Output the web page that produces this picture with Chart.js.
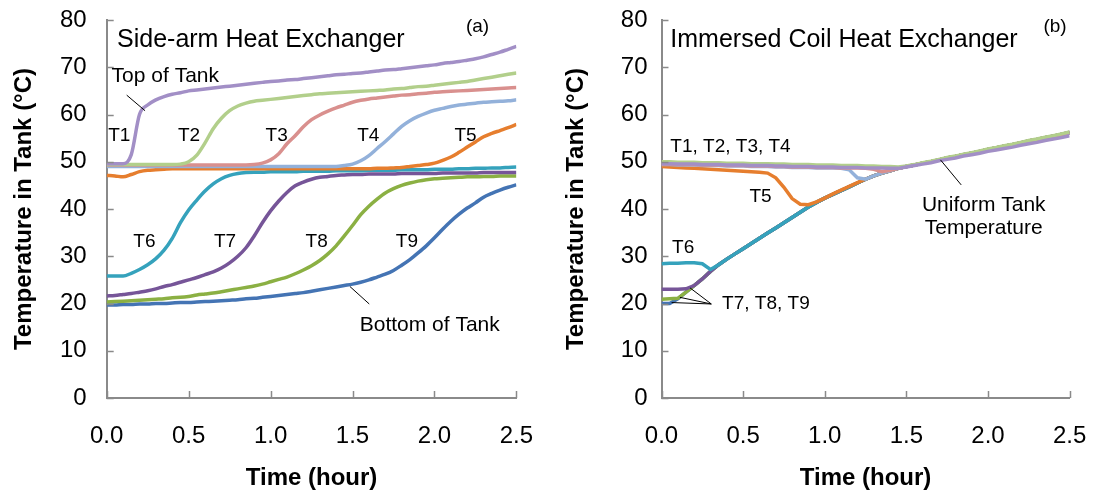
<!DOCTYPE html>
<html>
<head>
<meta charset="utf-8">
<script src="https://cdn.jsdelivr.net/npm/chart.js@4.4.1/dist/chart.umd.min.js"></script>
<style>
  body { margin: 0; background: #fff; }
  canvas { position: absolute; top: 0; }
  #side { left: 0; }
  #coil { left: 547px; }
</style>
</head>
<body>
<canvas id="side" width="547" height="498"></canvas>
<canvas id="coil" width="547" height="498"></canvas>
<script>
// time axis (hours), shared by every sensor series
const hours = [0,0.05,0.1,0.15,0.2,0.25,0.3,0.35,0.4,0.45,0.5,0.55,0.6,0.65,0.7,0.75,0.8,0.85,0.9,0.95,
  1,1.05,1.1,1.15,1.2,1.25,1.3,1.35,1.4,1.45,1.5,1.55,1.6,1.65,1.7,1.75,1.8,1.85,1.9,1.95,
  2,2.05,2.1,2.15,2.2,2.25,2.3,2.35,2.4,2.45,2.5];

const sensors = ["T1", "T2", "T3", "T4", "T5", "T6", "T7", "T8", "T9"];
const sensorColors = ["#A28FC6", "#B2CF8B", "#D9908E", "#93B1DA", "#E67E2E", "#35A2BC", "#765598", "#8BB043", "#4474B4"];

// (a) side-arm heat exchanger
const sideT1 = [49.6,49.6,49.6,51.5,60.0,62.0,63.1,63.8,64.3,64.6, 65.0,65.2,65.4,65.6,65.8,66.0,66.2,66.4,66.6,66.8,
  67.0,67.1,67.3,67.4,67.6,67.8,68.0,68.2,68.4,68.5, 68.7,68.8,69.0,69.2,69.4,69.5,69.7,69.9,70.1,70.3,
  70.5,70.8,71.0,71.2,71.5,71.8,72.2,72.7,73.2,73.8, 74.4];
const sideT2 = [49.4,49.4,49.4,49.4,49.4,49.4,49.4,49.4,49.4,49.5, 50.0,51.4,54.0,57.0,59.2,60.8,61.8,62.4,62.8,63.0,
  63.2,63.4,63.6,63.8,64.0,64.2,64.4,64.5,64.6,64.7, 64.8,64.9,65.0,65.1,65.2,65.4,65.5,65.7,65.9,66.0,
  66.2,66.4,66.6,66.8,67.0,67.3,67.6,67.9,68.2,68.5, 68.8];
const sideT3 = [49.3,49.3,49.3,49.3,49.3,49.3,49.3,49.3,49.3,49.3, 49.3,49.3,49.3,49.3,49.3,49.3,49.3,49.3,49.4,49.7,
  50.4,51.7,53.8,55.5,57.4,58.9,59.9,60.7,61.4,62.0, 62.6,63.0,63.3,63.5,63.7,63.9,64.1,64.2,64.4,64.5,
  64.7,64.8,64.9,65.0,65.1,65.2,65.3,65.4,65.5,65.6, 65.7];
const sideT4 = [49.0,49.0,49.0,49.0,49.0,49.0,49.0,49.0,49.0,49.0, 49.0,49.0,49.0,49.0,49.0,49.0,49.0,49.0,49.0,49.0,
  49.0,49.0,49.0,49.0,49.0,49.0,49.0,49.0,49.0,49.2, 49.5,50.2,51.3,52.8,54.3,55.9,57.5,58.7,59.6,60.3,
  60.9,61.3,61.7,62.0,62.2,62.4,62.6,62.7,62.8,62.9, 63.1];
const sideT5 = [47.1,47.0,46.8,47.3,47.9,48.2,48.3,48.4,48.5,48.5, 48.5,48.5,48.5,48.5,48.5,48.5,48.5,48.5,48.5,48.5,
  48.5,48.5,48.5,48.5,48.5,48.5,48.5,48.5,48.5,48.5, 48.5,48.5,48.5,48.6,48.6,48.7,48.8,49.0,49.2,49.4,
  49.7,50.3,51.0,52.0,53.1,54.2,55.3,56.0,56.6,57.2, 57.9];
const sideT6 = [25.8,25.8,25.8,26.4,27.2,28.2,29.5,31.3,33.8,37.1, 39.8,41.9,43.8,45.3,46.4,47.1,47.5,47.7,47.8,47.8,
  47.9,47.9,47.9,47.9,48.0,48.0,48.0,48.0,48.1,48.1, 48.1,48.1,48.2,48.2,48.2,48.2,48.3,48.3,48.3,48.3,
  48.4,48.4,48.4,48.5,48.5,48.6,48.6,48.7,48.7,48.8, 48.9];
const sideT7 = [21.6,21.7,21.9,22.1,22.4,22.7,23.1,23.6,24.0,24.5, 25.0,25.5,26.1,26.7,27.5,28.6,30.0,31.8,34.3,37.1,
  39.6,41.7,43.5,44.9,45.7,46.3,46.7,46.9,47.1,47.2, 47.3,47.3,47.4,47.4,47.4,47.4,47.5,47.5,47.5,47.5,
  47.5,47.6,47.6,47.6,47.6,47.6,47.7,47.7,47.7,47.7, 47.7];
const sideT8 = [20.3,20.4,20.5,20.6,20.7,20.8,20.9,21.0,21.2,21.3, 21.5,21.8,22.0,22.2,22.5,22.8,23.1,23.4,23.7,24.1,
  24.6,25.1,25.6,26.3,27.1,28.0,29.1,30.5,32.2,34.3, 36.5,38.8,40.6,42.1,43.4,44.3,45.0,45.5,45.9,46.2,
  46.4,46.5,46.6,46.7,46.8,46.8,46.9,46.9,47.0,47.0, 47.0];
const sideT9 = [19.7,19.7,19.8,19.8,19.9,19.9,20.0,20.0,20.1,20.2, 20.2,20.3,20.4,20.5,20.6,20.7,20.8,21.0,21.1,21.3,
  21.5,21.7,21.9,22.1,22.3,22.6,22.9,23.2,23.5,23.8, 24.1,24.5,25.0,25.6,26.2,27.0,28.1,29.3,30.7,32.2,
  33.9,35.7,37.4,38.9,40.2,41.3,42.5,43.3,44.0,44.6, 45.1];

// (b) immersed coil heat exchanger
const coilT1 = [49.6,49.6,49.5,49.5,49.5,49.4,49.4,49.4,49.3,49.3, 49.3,49.2,49.2,49.2,49.1,49.1,49.0,49.0,49.0,48.9,
  48.9,48.9,48.8,48.8,48.8,48.7,48.7,48.7,48.6,48.6, 48.9,49.2,49.5,49.8,50.2,50.5,50.8,51.2,51.5,51.8,
  52.2,52.5,52.8,53.1,53.5,53.8,54.1,54.5,54.8,55.1, 55.5];
const coilT2 = [50.0,50.0,49.9,49.9,49.9,49.8,49.8,49.8,49.7,49.7, 49.7,49.6,49.6,49.6,49.5,49.5,49.4,49.4,49.4,49.3,
  49.3,49.3,49.2,49.2,49.2,49.1,49.1,49.0,49.0,48.9, 49.1,49.4,49.8,50.1,50.5,50.9,51.2,51.6,51.9,52.3,
  52.7,53.0,53.4,53.7,54.1,54.5,54.8,55.2,55.5,55.9, 56.3];
const coilT3 = [49.5,49.5,49.4,49.4,49.4,49.3,49.3,49.3,49.2,49.2, 49.2,49.1,49.1,49.1,49.0,49.0,48.9,48.9,48.9,48.8,
  48.8,48.8,48.7,48.7,48.7,48.6,48.4,47.9,48.2,48.6, 49.0,49.3,49.7,50.0,50.4,50.8,51.1,51.5,51.8,52.2,
  52.6,52.9,53.3,53.6,54.0,54.4,54.7,55.1,55.4,55.8, 56.2];
const coilT4 = [49.4,49.4,49.3,49.3,49.3,49.2,49.2,49.2,49.1,49.1, 49.1,49.0,49.0,49.0,48.9,48.9,48.8,48.8,48.8,48.7,
  48.7,48.7,48.6,48.3,46.6,46.3,47.0,47.6,48.1,48.6, 49.0,49.3,49.7,50.0,50.4,50.8,51.1,51.5,51.8,52.2,
  52.6,52.9,53.3,53.6,54.0,54.4,54.7,55.1,55.4,55.8, 56.2];
const coilT5 = [49.0,48.9,48.8,48.7,48.6,48.5,48.4,48.3,48.2,48.1, 48.0,47.9,47.8,47.6,46.6,44.6,42.2,41.0,40.9,41.5,
  42.3,43.2,44.0,44.8,45.6,46.3,47.0,47.6,48.1,48.6, 49.0,49.3,49.7,50.0,50.4,50.8,51.1,51.5,51.8,52.2,
  52.6,52.9,53.3,53.6,54.0,54.4,54.7,55.1,55.4,55.8, 56.2];
const coilT6 = [28.4,28.5,28.5,28.6,28.6,28.4,27.2,28.2,29.4,30.5, 31.6,32.7,33.8,34.9,36.0,37.1,38.2,39.3,40.4,41.4,
  42.3,43.1,43.9,44.7,45.5,46.3,47.0,47.6,48.1,48.6, 49.0,49.3,49.7,50.0,50.4,50.8,51.1,51.5,51.8,52.2,
  52.6,52.9,53.3,53.6,54.0,54.4,54.7,55.1,55.4,55.8, 56.2];
const coilT7 = [23.0,23.0,23.0,23.1,23.8,25.2,26.8,28.2,29.4,30.5, 31.6,32.7,33.8,34.9,36.0,37.1,38.2,39.3,40.4,41.4,
  42.3,43.1,43.9,44.7,45.5,46.3,47.0,47.6,48.1,48.6, 49.0,49.3,49.7,50.0,50.4,50.8,51.1,51.5,51.8,52.2,
  52.6,52.9,53.3,53.6,54.0,54.4,54.7,55.1,55.4,55.8, 56.2];
const coilT8 = [20.9,21.0,21.1,22.4,23.8,25.2,26.8,28.2,29.4,30.5, 31.6,32.7,33.8,34.9,36.0,37.1,38.2,39.3,40.4,41.4,
  42.3,43.1,43.9,44.7,45.5,46.3,47.0,47.6,48.1,48.6, 49.0,49.3,49.7,50.0,50.4,50.8,51.1,51.5,51.8,52.2,
  52.6,52.9,53.3,53.6,54.0,54.4,54.7,55.1,55.4,55.8, 56.2];
const coilT9 = [20.0,20.0,21.0,22.4,23.8,25.2,26.8,28.2,29.4,30.5, 31.6,32.7,33.8,34.9,36.0,37.1,38.2,39.3,40.4,41.4,
  42.3,43.1,43.9,44.7,45.5,46.3,47.0,47.6,48.1,48.6, 49.0,49.3,49.7,50.0,50.4,50.8,51.1,51.5,51.8,52.2,
  52.6,52.9,53.3,53.6,54.0,54.4,54.7,55.1,55.4,55.8, 56.2];

const FONT = "'Liberation Sans', Arial, sans-serif";
const AXIS = "#8a8a8a";

// text annotations in data coordinates (hour, degC)
const sideNotes = [
  { text: "Side-arm Heat Exchanger", x: 0.063, y: 75.8, align: "left", size: 25 },
  { text: "(a)", x: 2.263, y: 78.6, size: 19 },
  { text: "Top of Tank", x: 0.03, y: 68.0, align: "left", size: 21 },
  { text: "T1", x: 0.077, y: 55.4 }, { text: "T2", x: 0.502, y: 55.4 },
  { text: "T3", x: 1.037, y: 55.4 }, { text: "T4", x: 1.596, y: 55.4 },
  { text: "T5", x: 2.19, y: 55.4 },
  { text: "T6", x: 0.23, y: 33.1 }, { text: "T7", x: 0.722, y: 33.1 },
  { text: "T8", x: 1.281, y: 33.1 }, { text: "T9", x: 1.832, y: 33.1 },
  { text: "Bottom of Tank", x: 1.544, y: 15.4, align: "left", size: 21 },
];
const sideLeaders = [
  [[0.122, 64.1], [0.234, 60.8]],
  [[1.484, 23.6], [1.602, 19.9]],
];
const coilNotes = [
  { text: "Immersed Coil Heat Exchanger", x: 0.054, y: 75.8, align: "left", size: 25 },
  { text: "(b)", x: 2.411, y: 78.6, size: 19 },
  { text: "T1, T2, T3, T4", x: 0.054, y: 53.2, align: "left" },
  { text: "T5", x: 0.607, y: 42.6 },
  { text: "Uniform Tank", x: 1.974, y: 40.8, size: 21 },
  { text: "Temperature", x: 1.974, y: 35.9, size: 21 },
  { text: "T6", x: 0.133, y: 31.7 },
  { text: "T7, T8, T9", x: 0.371, y: 20.0, align: "left" },
];
const coilLeaders = [
  [[1.709, 50.4], [1.836, 45.1]],
  [[0.175, 23.3], [0.305, 19.9]],
  [[0.113, 21.3], [0.305, 19.9]],
  [[0.062, 20.2], [0.305, 19.9]],
];

function notesPlugin(notes, leaders) {
  return {
    id: "notes",
    afterDatasetsDraw(chart) {
      const { ctx, scales: { x, y } } = chart;
      ctx.save();
      // inward tick marks, Excel style
      ctx.strokeStyle = AXIS;
      ctx.lineWidth = 1.5;
      x.ticks.forEach((t) => {
        const px = Math.round(x.getPixelForValue(t.value)) + 0.5;
        ctx.beginPath();
        ctx.moveTo(px, y.bottom);
        ctx.lineTo(px, y.bottom - 7);
        ctx.stroke();
      });
      y.ticks.forEach((t) => {
        const py = Math.round(y.getPixelForValue(t.value)) + 0.5;
        ctx.beginPath();
        ctx.moveTo(x.left, py);
        ctx.lineTo(x.left + 7, py);
        ctx.stroke();
      });
      ctx.strokeStyle = "#000";
      ctx.lineWidth = 1;
      leaders.forEach(([a, b]) => {
        ctx.beginPath();
        ctx.moveTo(x.getPixelForValue(a[0]), y.getPixelForValue(a[1]));
        ctx.lineTo(x.getPixelForValue(b[0]), y.getPixelForValue(b[1]));
        ctx.stroke();
      });
      ctx.fillStyle = "#000";
      ctx.textBaseline = "middle";
      notes.forEach((n) => {
        ctx.font = `${n.size || 19}px ${FONT}`;
        ctx.textAlign = n.align || "center";
        ctx.fillText(n.text, x.getPixelForValue(n.x), y.getPixelForValue(n.y));
      });
      ctx.restore();
    },
  };
}

function makeChart(id, series, opt) {
  new Chart(document.getElementById(id), {
    type: "line",
    data: {
      datasets: series.map((values, i) => ({
        label: sensors[i],
        data: hours.map((h, k) => ({ x: h, y: values[k] })),
        borderColor: sensorColors[i],
        backgroundColor: sensorColors[i],
        borderWidth: 3.5,
        pointRadius: 0,
        fill: false,
        cubicInterpolationMode: opt.smooth ? "monotone" : "default",
        tension: 0,
      })),
    },
    options: {
      responsive: false,
      animation: false,
      events: [],
      layout: { padding: { left: 0, right: opt.padRight, top: 20, bottom: 0 } },
      plugins: { legend: { display: false }, tooltip: { enabled: false } },
      scales: {
        x: {
          type: "linear",
          min: 0,
          max: 2.5,
          grid: { display: false, drawTicks: false },
          border: { display: true, color: AXIS, width: 2 },
          ticks: {
            stepSize: 0.5,
            padding: 24,
            color: "#000",
            font: { family: FONT, size: 24 },
            callback: (v) => v.toFixed(1),
          },
          title: {
            display: true,
            text: "Time (hour)",
            color: "#000",
            font: { family: FONT, size: 24, weight: "bold" },
            padding: { top: 0, bottom: 5 },
          },
          afterFit: (s) => {
            s.height = 100;
            s.paddingLeft = 0;
            s.paddingRight = 0;
          },
        },
        y: {
          min: 0,
          max: 80,
          grid: { display: false, drawTicks: false },
          border: { display: true, color: AXIS, width: 2 },
          ticks: {
            stepSize: 10,
            padding: opt.yPad,
            color: "#000",
            font: { family: FONT, size: 24 },
          },
          title: {
            display: true,
            text: "Temperature in Tank (°C)",
            color: "#000",
            font: { family: FONT, size: 24, weight: "bold" },
            padding: { top: opt.titlePad, bottom: 0 },
          },
          afterFit: (s) => {
            s.width = opt.axisLeft;
            s.paddingTop = 0;
            s.paddingBottom = 0;
          },
        },
      },
    },
    plugins: [notesPlugin(opt.notes, opt.leaders)],
  });
}

makeChart("side", [sideT1, sideT2, sideT3, sideT4, sideT5, sideT6, sideT7, sideT8, sideT9], {
  smooth: true, padRight: 30.6, axisLeft: 106.7, yPad: 20, titlePad: 9.6,
  notes: sideNotes, leaders: sideLeaders,
});
makeChart("coil", [coilT1, coilT2, coilT3, coilT4, coilT5, coilT6, coilT7, coilT8, coilT9], {
  smooth: false, padRight: 24.4, axisLeft: 114.5, yPad: 14, titlePad: 15,
  notes: coilNotes, leaders: coilLeaders,
});
</script>
</body>
</html>
